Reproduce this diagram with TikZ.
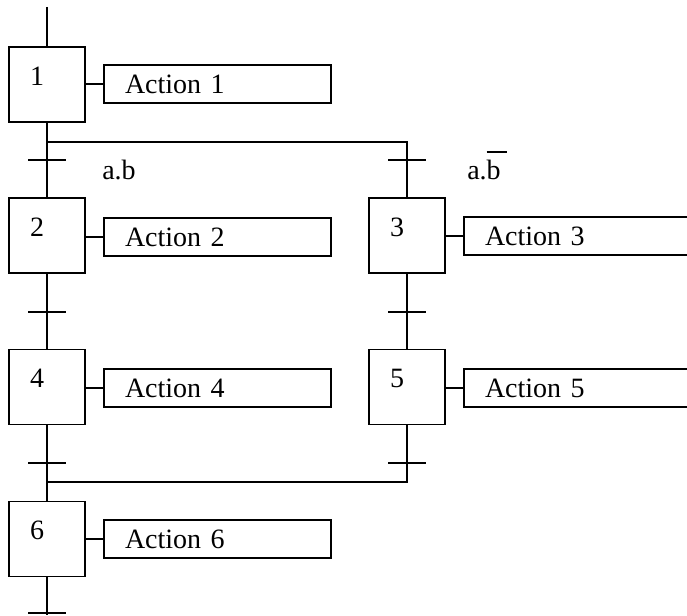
\documentclass[tikz,border=0pt]{standalone}
\usepackage{fontspec}
\setmainfont{Liberation Serif}
\usetikzlibrary{positioning, calc}

\tikzset{
    stepbox/.style={draw, line width=1.4pt, minimum width=76pt, minimum height=75pt, inner sep=0pt},
    actbox/.style={draw, line width=1.4pt, minimum height=38pt, text width=185pt, inner xsep=21pt, inner ysep=0pt, align=left},
    link/.style={line width=1.4pt},
    num/.style={inner sep=0pt}
}

\begin{document}
\begin{tikzpicture}[x=1pt, y=-1pt, font=\fontsize{28}{32}\selectfont]
    \useasboundingbox (0,0) rectangle (687,615);

    % Steps
    \node[stepbox] (s1) at (47,84.5) {};
    \node[stepbox] (s2) at (47,235.5) {};
    \node[stepbox] (s3) at (407,235.5) {};
    \node[stepbox] (s4) at (47,387) {};
    \node[stepbox] (s5) at (407,387) {};
    \node[stepbox] (s6) at (47,539) {};

    % Step numbers
    \node[num] (n1) at (37,76) {1};
    \node[num] (n2) at (37,227) {2};
    \node[num] (n3) at (397,227) {3};
    \node[num] (n4) at (37,378) {4};
    \node[num] (n5) at (397,378) {5};
    \node[num] (n6) at (37,530) {6};

    % Actions
    \node[actbox] (a1) at (217.5,84) {Action 1};
    \node[actbox] (a2) at (217.5,237) {Action 2};
    \node[actbox] (a3) at (577.5,236) {Action 3};
    \node[actbox] (a4) at (217.5,388) {Action 4};
    \node[actbox] (a5) at (577.5,388) {Action 5};
    \node[actbox] (a6) at (217.5,539) {Action 6};

    \foreach \i in {1,...,6}
        \draw[link] (a\i.west) -- (a\i.west -| s\i.east);

    % Conditions
    \node[anchor=base] (c1) at (119,179) {a.b};
    \node[anchor=base] (c2) at (484,179) {a.\rlap{\rule[0.93em]{0.72em}{1.6pt}}b};

    % Links
    \coordinate (top) at (47,7);
    \coordinate (div) at (407,142);
    \coordinate (join) at (407,482);
    \coordinate (bot) at (47,615);
    \draw[link] (top) -- (s1.north);
    \draw[link] (s1.south) -- (s2.north);
    \draw[link] (s1.south |- div) -- (div) -- (s3.north);
    \draw[link] (s2.south) -- (s4.north);
    \draw[link] (s3.south) -- (s5.north);
    \draw[link] (s4.south) -- (s6.north);
    \draw[link] (s5.south) -- (join) -- (s6.north |- join);
    \draw[link] (s6.south) -- (bot);

    % Transitions
    \foreach \x/\y in {47/160, 407/160, 47/312, 407/312, 47/463, 407/463, 47/613}
        \draw[link] (\x-19,\y) -- (\x+19,\y);
\end{tikzpicture}
\end{document}
